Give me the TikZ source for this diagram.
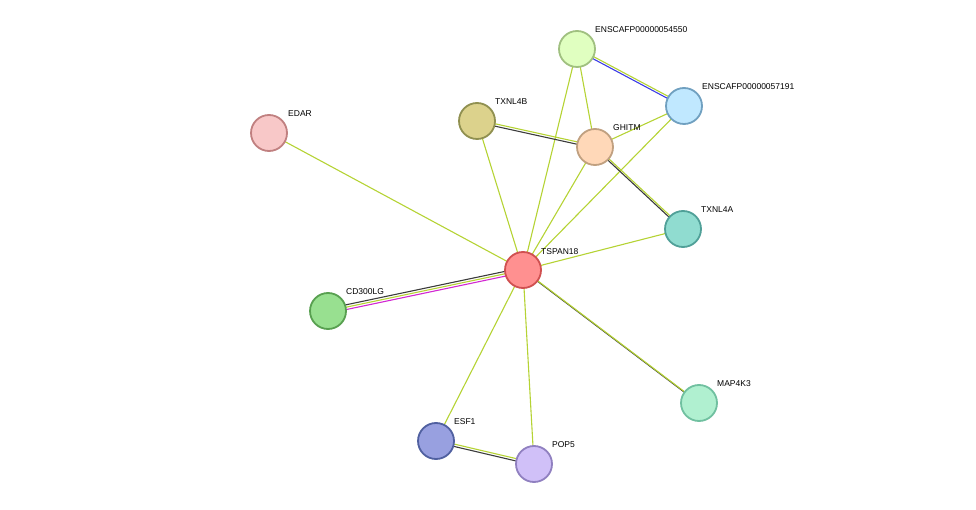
\documentclass[tikz,border=0pt]{standalone}
\usepackage{fontspec}
\setmainfont{Liberation Sans}
\begin{document}
\begin{tikzpicture}[x=1pt,y=-1pt,
  nd/.style={circle,minimum size=36pt,inner sep=0pt,line width=1.8pt},
  lb/.style={font=\fontsize{8.5}{10}\selectfont,anchor=south west,inner sep=1pt},
  tm/.style={draw={rgb,255:red,181;green,211;blue,52},line width=1.1pt},
  co/.style={draw={rgb,255:red,60;green,60;blue,60},line width=1.1pt},
  bl/.style={draw={rgb,255:red,60;green,60;blue,230},line width=1.1pt},
  mg/.style={draw={rgb,255:red,210;green,40;blue,210},line width=1.1pt}]
\useasboundingbox (0,0) rectangle (976,510);
\coordinate (pT) at (523,270);
\coordinate (pE) at (269,133);
\coordinate (pB) at (477,121);
\coordinate (p4) at (577,49);
\coordinate (p7) at (684,106);
\coordinate (pG) at (595,147);
\coordinate (pA) at (683,229);
\coordinate (pC) at (328,311);
\coordinate (pM) at (699,403);
\coordinate (pS) at (436,441);
\coordinate (pP) at (534,464);
% edges
\draw[tm] (pE)--(pT); \draw[tm] (pB)--(pT); \draw[tm] (p4)--(pT);
\draw[tm] (p4)--(pG); \draw[tm] (p7)--(pG); \draw[tm] (p7)--(pT);
\draw[tm] (pG)--(pT); \draw[tm] (pA)--(pT); \draw[tm] (pS)--(pT);
\draw[tm] (pP)--(pT);
\draw[co,transform canvas={yshift=-1.2pt}] (pB)--(pG);
\draw[tm,transform canvas={yshift=1.2pt}] (pB)--(pG);
\draw[bl,transform canvas={yshift=-1.2pt}] (p4)--(p7);
\draw[tm,transform canvas={yshift=1.2pt}] (p4)--(p7);
\draw[co,transform canvas={xshift=-1.2pt}] (pG)--(pA);
\draw[tm,transform canvas={xshift=1.2pt}] (pG)--(pA);
\draw[mg,transform canvas={yshift=-2.4pt}] (pC)--(pT);
\draw[tm] (pC)--(pT);
\draw[co,transform canvas={yshift=2.4pt}] (pC)--(pT);
\draw[co,transform canvas={xshift=1.2pt,yshift=-1.2pt}] (pT)--(pM);
\draw[tm,transform canvas={xshift=-1.2pt,yshift=1.2pt}] (pT)--(pM);
\draw[co,transform canvas={yshift=-1.2pt}] (pS)--(pP);
\draw[tm,transform canvas={yshift=1.2pt}] (pS)--(pP);
% nodes
\node[nd,fill={rgb,255:red,255;green,144;blue,144},draw={rgb,255:red,208;green,80;blue,80}] (T) at (pT) {};
\node[nd,fill={rgb,255:red,248;green,200;blue,200},draw={rgb,255:red,192;green,128;blue,128}] (E) at (pE) {};
\node[nd,fill={rgb,255:red,220;green,210;blue,140},draw={rgb,255:red,144;green,144;blue,80}] (B) at (pB) {};
\node[nd,fill={rgb,255:red,224;green,255;blue,192},draw={rgb,255:red,160;green,192;blue,128}] (F) at (p4) {};
\node[nd,fill={rgb,255:red,192;green,232;blue,255},draw={rgb,255:red,112;green,160;blue,192}] (S7) at (p7) {};
\node[nd,fill={rgb,255:red,255;green,216;blue,184},draw={rgb,255:red,192;green,160;blue,128}] (G) at (pG) {};
\node[nd,fill={rgb,255:red,144;green,220;blue,208},draw={rgb,255:red,80;green,160;blue,152}] (A) at (pA) {};
\node[nd,fill={rgb,255:red,152;green,224;blue,144},draw={rgb,255:red,88;green,160;blue,80}] (C) at (pC) {};
\node[nd,fill={rgb,255:red,176;green,240;blue,208},draw={rgb,255:red,112;green,192;blue,160}] (M) at (pM) {};
\node[nd,fill={rgb,255:red,152;green,160;blue,224},draw={rgb,255:red,80;green,96;blue,160}] (S) at (pS) {};
\node[nd,fill={rgb,255:red,208;green,192;blue,248},draw={rgb,255:red,144;green,128;blue,192}] (P) at (pP) {};
% labels
\node[lb] (lT) at (540,256) {TSPAN18};
\node[lb] (lE) at (287,118) {EDAR};
\node[lb] (lB) at (494,106) {TXNL4B};
\node[lb] (lF) at (594,34) {ENSCAFP00000054550};
\node[lb] (l7) at (701,91) {ENSCAFP00000057191};
\node[lb] (lG) at (612,132) {GHITM};
\node[lb] (lA) at (700,214) {TXNL4A};
\node[lb] (lC) at (345,296) {CD300LG};
\node[lb] (lM) at (716,388) {MAP4K3};
\node[lb] (lS) at (453,426) {ESF1};
\node[lb] (lP) at (551,449) {POP5};
\end{tikzpicture}
\end{document}
